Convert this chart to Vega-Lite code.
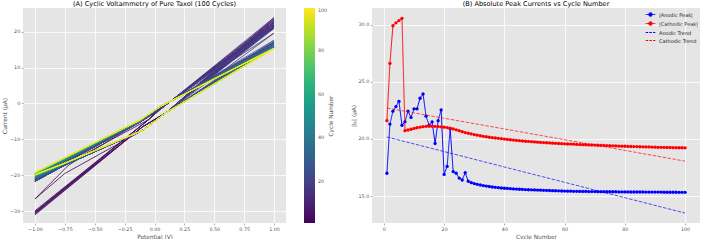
{
"$schema": "https://vega.github.io/schema/vega-lite/v6.json",
"padding": {"left": 1, "right": 0, "top": 0, "bottom": 0},
"background": "white",
"config": {
  "view": {"fill": "#E5E5E5", "stroke": null},
  "font": "DejaVu Sans",
  "axis": {"domain": false, "gridColor": "white", "gridWidth": 0.8, "tickColor": "#555555", "tickSize": 1.8, "tickWidth": 0.5, "labelColor": "#555555", "labelFontSize": 4.8, "labelPadding": 1.5, "titleColor": "#555555", "titleFontSize": 5.8, "titleFontWeight": "normal", "titlePadding": 2},
  "title": {"fontSize": 6.6, "fontWeight": "normal", "color": "#000000", "offset": 0.5},
  "concat": {"spacing": 16}
},
"datasets": {
"cv": [
{"c":1,"k":0,"e":-1,"i":-21.6},{"c":1,"k":1,"e":-0.05,"i":-4.5},{"c":1,"k":2,"e":0.05,"i":-0.97},{"c":1,"k":3,"e":1,"i":17},{"c":1,"k":4,"e":0.1,"i":-2.5},{"c":1,"k":5,"e":-0.1,"i":-7.5},{"c":1,"k":6,"e":-0.75,"i":-19.5},{"c":1,"k":7,"e":-1,"i":-26.6},
{"c":2,"k":0,"e":-1,"i":-26.6},{"c":2,"k":1,"e":-0.72,"i":-17.2},{"c":2,"k":2,"e":-0.12,"i":-5.1},{"c":2,"k":3,"e":0.05,"i":-1.4},{"c":2,"k":4,"e":1,"i":21.3},{"c":2,"k":5,"e":0.1,"i":-2.5},{"c":2,"k":6,"e":-0.1,"i":-6.5},{"c":2,"k":7,"e":-0.75,"i":-23.6},{"c":2,"k":8,"e":-1,"i":-30.4},
{"c":3,"k":0,"e":-1,"i":-29.9},{"c":3,"k":1,"e":-0.05,"i":-4.5},{"c":3,"k":2,"e":0.05,"i":-1.51},{"c":3,"k":3,"e":1,"i":22.43},{"c":3,"k":4,"e":0.1,"i":-2.5},{"c":3,"k":5,"e":-0.1,"i":-6.5},{"c":3,"k":6,"e":-0.75,"i":-23.76},{"c":3,"k":7,"e":-1,"i":-30.4},
{"c":4,"k":0,"e":-1,"i":-30.15},{"c":4,"k":1,"e":-0.05,"i":-4.5},{"c":4,"k":2,"e":0.05,"i":-1.55},{"c":4,"k":3,"e":1,"i":22.83},{"c":4,"k":4,"e":0.1,"i":-2.5},{"c":4,"k":5,"e":-0.1,"i":-6.5},{"c":4,"k":6,"e":-0.75,"i":-23.94},{"c":4,"k":7,"e":-1,"i":-30.65},
{"c":5,"k":0,"e":-1,"i":-30.35},{"c":5,"k":1,"e":-0.05,"i":-4.5},{"c":5,"k":2,"e":0.05,"i":-1.6},{"c":5,"k":3,"e":1,"i":23.29},{"c":5,"k":4,"e":0.1,"i":-2.5},{"c":5,"k":5,"e":-0.1,"i":-6.5},{"c":5,"k":6,"e":-0.75,"i":-24.09},{"c":5,"k":7,"e":-1,"i":-30.85},
{"c":6,"k":0,"e":-1,"i":-30.55},{"c":6,"k":1,"e":-0.05,"i":-4.5},{"c":6,"k":2,"e":0.05,"i":-1.39},{"c":6,"k":3,"e":1,"i":21.2},{"c":6,"k":4,"e":0.1,"i":-2.5},{"c":6,"k":5,"e":-0.1,"i":-6.5},{"c":6,"k":6,"e":-0.75,"i":-24.23},{"c":6,"k":7,"e":-1,"i":-31.05},
{"c":7,"k":0,"e":-1,"i":-20.72},{"c":7,"k":1,"e":-0.12,"i":-5.06},{"c":7,"k":2,"e":0.05,"i":-1.42},{"c":7,"k":3,"e":1,"i":21.5},{"c":7,"k":4,"e":0.1,"i":-2.5},{"c":7,"k":5,"e":-0.1,"i":-7.5},{"c":7,"k":6,"e":-0.75,"i":-17.06},{"c":7,"k":7,"e":-1,"i":-21.32},
{"c":8,"k":0,"e":-1,"i":-20.78},{"c":8,"k":1,"e":-0.12,"i":-5.07},{"c":8,"k":2,"e":0.05,"i":-1.51},{"c":8,"k":3,"e":1,"i":22.43},{"c":8,"k":4,"e":0.1,"i":-2.5},{"c":8,"k":5,"e":-0.1,"i":-7.5},{"c":8,"k":6,"e":-0.75,"i":-17.07},{"c":8,"k":7,"e":-1,"i":-21.38},
{"c":9,"k":0,"e":-1,"i":-20.85},{"c":9,"k":1,"e":-0.12,"i":-5.1},{"c":9,"k":2,"e":0.05,"i":-1.46},{"c":9,"k":3,"e":1,"i":21.88},{"c":9,"k":4,"e":0.1,"i":-2.5},{"c":9,"k":5,"e":-0.1,"i":-7.5},{"c":9,"k":6,"e":-0.75,"i":-17.1},{"c":9,"k":7,"e":-1,"i":-21.45},
{"c":10,"k":0,"e":-1,"i":-20.92},{"c":10,"k":1,"e":-0.12,"i":-5.12},{"c":10,"k":2,"e":0.05,"i":-1.53},{"c":10,"k":3,"e":1,"i":22.63},{"c":10,"k":4,"e":0.1,"i":-2.5},{"c":10,"k":5,"e":-0.1,"i":-7.5},{"c":10,"k":6,"e":-0.75,"i":-17.12},{"c":10,"k":7,"e":-1,"i":-21.52},
{"c":11,"k":0,"e":-1,"i":-20.98},{"c":11,"k":1,"e":-0.12,"i":-5.13},{"c":11,"k":2,"e":0.05,"i":-1.53},{"c":11,"k":3,"e":1,"i":22.63},{"c":11,"k":4,"e":0.1,"i":-2.5},{"c":11,"k":5,"e":-0.1,"i":-7.5},{"c":11,"k":6,"e":-0.75,"i":-17.13},{"c":11,"k":7,"e":-1,"i":-21.58},
{"c":12,"k":0,"e":-1,"i":-21.03},{"c":12,"k":1,"e":-0.12,"i":-5.15},{"c":12,"k":2,"e":0.05,"i":-1.63},{"c":12,"k":3,"e":1,"i":23.56},{"c":12,"k":4,"e":0.1,"i":-2.5},{"c":12,"k":5,"e":-0.1,"i":-7.5},{"c":12,"k":6,"e":-0.75,"i":-17.15},{"c":12,"k":7,"e":-1,"i":-21.63},
{"c":13,"k":0,"e":-1,"i":-21.07},{"c":13,"k":1,"e":-0.12,"i":-5.16},{"c":13,"k":2,"e":0.05,"i":-1.66},{"c":13,"k":3,"e":1,"i":23.93},{"c":13,"k":4,"e":0.1,"i":-2.5},{"c":13,"k":5,"e":-0.1,"i":-7.5},{"c":13,"k":6,"e":-0.75,"i":-17.16},{"c":13,"k":7,"e":-1,"i":-21.67},
{"c":14,"k":0,"e":-1,"i":-21.1},{"c":14,"k":1,"e":-0.12,"i":-5.17},{"c":14,"k":2,"e":0.05,"i":-1.47},{"c":14,"k":3,"e":1,"i":21.99},{"c":14,"k":4,"e":0.1,"i":-2.5},{"c":14,"k":5,"e":-0.1,"i":-7.5},{"c":14,"k":6,"e":-0.75,"i":-17.17},{"c":14,"k":7,"e":-1,"i":-21.7},
{"c":15,"k":0,"e":-1,"i":-21.11},{"c":15,"k":1,"e":-0.12,"i":-5.17},{"c":15,"k":2,"e":0.05,"i":-1.39},{"c":15,"k":3,"e":1,"i":21.2},{"c":15,"k":4,"e":0.1,"i":-2.5},{"c":15,"k":5,"e":-0.1,"i":-7.5},{"c":15,"k":6,"e":-0.75,"i":-17.17},{"c":15,"k":7,"e":-1,"i":-21.71},
{"c":16,"k":0,"e":-1,"i":-21.11},{"c":16,"k":1,"e":-0.12,"i":-5.17},{"c":16,"k":2,"e":0.05,"i":-1.42},{"c":16,"k":3,"e":1,"i":21.5},{"c":16,"k":4,"e":0.1,"i":-2.5},{"c":16,"k":5,"e":-0.1,"i":-7.5},{"c":16,"k":6,"e":-0.75,"i":-17.17},{"c":16,"k":7,"e":-1,"i":-21.71},
{"c":17,"k":0,"e":-1,"i":-21.1},{"c":17,"k":1,"e":-0.12,"i":-5.17},{"c":17,"k":2,"e":0.05,"i":-1.23},{"c":17,"k":3,"e":1,"i":19.6},{"c":17,"k":4,"e":0.1,"i":-2.5},{"c":17,"k":5,"e":-0.1,"i":-7.5},{"c":17,"k":6,"e":-0.75,"i":-17.17},{"c":17,"k":7,"e":-1,"i":-21.7},
{"c":18,"k":0,"e":-1,"i":-21.08},{"c":18,"k":1,"e":-0.12,"i":-5.16},{"c":18,"k":2,"e":0.05,"i":-1.43},{"c":18,"k":3,"e":1,"i":21.6},{"c":18,"k":4,"e":0.1,"i":-2.5},{"c":18,"k":5,"e":-0.1,"i":-7.5},{"c":18,"k":6,"e":-0.75,"i":-17.16},{"c":18,"k":7,"e":-1,"i":-21.68},
{"c":19,"k":0,"e":-1,"i":-21.06},{"c":19,"k":1,"e":-0.12,"i":-5.16},{"c":19,"k":2,"e":0.05,"i":-1.52},{"c":19,"k":3,"e":1,"i":22.54},{"c":19,"k":4,"e":0.1,"i":-2.5},{"c":19,"k":5,"e":-0.1,"i":-7.5},{"c":19,"k":6,"e":-0.75,"i":-17.16},{"c":19,"k":7,"e":-1,"i":-21.66},
{"c":20,"k":0,"e":-1,"i":-21.03},{"c":20,"k":1,"e":-0.12,"i":-5.15},{"c":20,"k":2,"e":0.05,"i":-0.96},{"c":20,"k":3,"e":1,"i":16.9},{"c":20,"k":4,"e":0.1,"i":-2.5},{"c":20,"k":5,"e":-0.1,"i":-7.5},{"c":20,"k":6,"e":-0.75,"i":-17.15},{"c":20,"k":7,"e":-1,"i":-21.63},
{"c":21,"k":0,"e":-1,"i":-20.99},{"c":21,"k":1,"e":-0.12,"i":-5.14},{"c":21,"k":2,"e":0.05,"i":-1.03},{"c":21,"k":3,"e":1,"i":17.6},{"c":21,"k":4,"e":0.1,"i":-2.5},{"c":21,"k":5,"e":-0.1,"i":-7.5},{"c":21,"k":6,"e":-0.75,"i":-17.14},{"c":21,"k":7,"e":-1,"i":-21.59},
{"c":22,"k":0,"e":-1,"i":-20.94},{"c":22,"k":1,"e":-0.12,"i":-5.12},{"c":22,"k":2,"e":0.05,"i":-1.36},{"c":22,"k":3,"e":1,"i":20.9},{"c":22,"k":4,"e":0.1,"i":-2.5},{"c":22,"k":5,"e":-0.1,"i":-7.5},{"c":22,"k":6,"e":-0.75,"i":-17.12},{"c":22,"k":7,"e":-1,"i":-21.54},
{"c":23,"k":0,"e":-1,"i":-20.88},{"c":23,"k":1,"e":-0.12,"i":-5.1},{"c":23,"k":2,"e":0.05,"i":-0.99},{"c":23,"k":3,"e":1,"i":17.15},{"c":23,"k":4,"e":0.1,"i":-2.5},{"c":23,"k":5,"e":-0.1,"i":-7.5},{"c":23,"k":6,"e":-0.75,"i":-17.1},{"c":23,"k":7,"e":-1,"i":-21.48},
{"c":24,"k":0,"e":-1,"i":-20.8},{"c":24,"k":1,"e":-0.12,"i":-5.08},{"c":24,"k":2,"e":0.05,"i":-0.97},{"c":24,"k":3,"e":1,"i":17},{"c":24,"k":4,"e":0.1,"i":-2.5},{"c":24,"k":5,"e":-0.1,"i":-7.5},{"c":24,"k":6,"e":-0.75,"i":-17.08},{"c":24,"k":7,"e":-1,"i":-21.4},
{"c":25,"k":0,"e":-1,"i":-20.72},{"c":25,"k":1,"e":-0.12,"i":-5.06},{"c":25,"k":2,"e":0.05,"i":-0.93},{"c":25,"k":3,"e":1,"i":16.58},{"c":25,"k":4,"e":0.1,"i":-2.5},{"c":25,"k":5,"e":-0.1,"i":-7.5},{"c":25,"k":6,"e":-0.75,"i":-17.06},{"c":25,"k":7,"e":-1,"i":-21.32},
{"c":26,"k":0,"e":-1,"i":-20.64},{"c":26,"k":1,"e":-0.12,"i":-5.03},{"c":26,"k":2,"e":0.05,"i":-0.91},{"c":26,"k":3,"e":1,"i":16.41},{"c":26,"k":4,"e":0.1,"i":-2.5},{"c":26,"k":5,"e":-0.1,"i":-7.5},{"c":26,"k":6,"e":-0.75,"i":-17.03},{"c":26,"k":7,"e":-1,"i":-21.24},
{"c":27,"k":0,"e":-1,"i":-20.56},{"c":27,"k":1,"e":-0.12,"i":-5.01},{"c":27,"k":2,"e":0.05,"i":-0.98},{"c":27,"k":3,"e":1,"i":17.05},{"c":27,"k":4,"e":0.1,"i":-2.5},{"c":27,"k":5,"e":-0.1,"i":-7.5},{"c":27,"k":6,"e":-0.75,"i":-17.01},{"c":27,"k":7,"e":-1,"i":-21.16},
{"c":28,"k":0,"e":-1,"i":-20.5},{"c":28,"k":1,"e":-0.12,"i":-4.99},{"c":28,"k":2,"e":0.05,"i":-0.9},{"c":28,"k":3,"e":1,"i":16.3},{"c":28,"k":4,"e":0.1,"i":-2.5},{"c":28,"k":5,"e":-0.1,"i":-7.5},{"c":28,"k":6,"e":-0.75,"i":-16.99},{"c":28,"k":7,"e":-1,"i":-21.1},
{"c":31,"k":0,"e":-1,"i":-20.33},{"c":31,"k":1,"e":-0.12,"i":-4.94},{"c":31,"k":2,"e":0.05,"i":-0.87},{"c":31,"k":3,"e":1,"i":16.03},{"c":31,"k":4,"e":0.1,"i":-2.5},{"c":31,"k":5,"e":-0.1,"i":-7.5},{"c":31,"k":6,"e":-0.75,"i":-16.94},{"c":31,"k":7,"e":-1,"i":-20.93},
{"c":34,"k":0,"e":-1,"i":-20.19},{"c":34,"k":1,"e":-0.12,"i":-4.9},{"c":34,"k":2,"e":0.05,"i":-0.86},{"c":34,"k":3,"e":1,"i":15.88},{"c":34,"k":4,"e":0.1,"i":-2.5},{"c":34,"k":5,"e":-0.1,"i":-7.5},{"c":34,"k":6,"e":-0.75,"i":-16.9},{"c":34,"k":7,"e":-1,"i":-20.79},
{"c":37,"k":0,"e":-1,"i":-20.08},{"c":37,"k":1,"e":-0.12,"i":-4.86},{"c":37,"k":2,"e":0.05,"i":-0.85},{"c":37,"k":3,"e":1,"i":15.77},{"c":37,"k":4,"e":0.1,"i":-2.5},{"c":37,"k":5,"e":-0.1,"i":-7.5},{"c":37,"k":6,"e":-0.75,"i":-16.86},{"c":37,"k":7,"e":-1,"i":-20.68},
{"c":40,"k":0,"e":-1,"i":-19.99},{"c":40,"k":1,"e":-0.12,"i":-4.84},{"c":40,"k":2,"e":0.05,"i":-0.84},{"c":40,"k":3,"e":1,"i":15.69},{"c":40,"k":4,"e":0.1,"i":-2.5},{"c":40,"k":5,"e":-0.1,"i":-7.5},{"c":40,"k":6,"e":-0.75,"i":-16.84},{"c":40,"k":7,"e":-1,"i":-20.59},
{"c":43,"k":0,"e":-1,"i":-19.9},{"c":43,"k":1,"e":-0.12,"i":-4.81},{"c":43,"k":2,"e":0.05,"i":-0.83},{"c":43,"k":3,"e":1,"i":15.63},{"c":43,"k":4,"e":0.1,"i":-2.5},{"c":43,"k":5,"e":-0.1,"i":-7.5},{"c":43,"k":6,"e":-0.75,"i":-16.81},{"c":43,"k":7,"e":-1,"i":-20.5},
{"c":46,"k":0,"e":-1,"i":-19.82},{"c":46,"k":1,"e":-0.12,"i":-4.79},{"c":46,"k":2,"e":0.05,"i":-0.83},{"c":46,"k":3,"e":1,"i":15.59},{"c":46,"k":4,"e":0.1,"i":-2.5},{"c":46,"k":5,"e":-0.1,"i":-7.5},{"c":46,"k":6,"e":-0.75,"i":-16.79},{"c":46,"k":7,"e":-1,"i":-20.42},
{"c":49,"k":0,"e":-1,"i":-19.76},{"c":49,"k":1,"e":-0.12,"i":-4.77},{"c":49,"k":2,"e":0.05,"i":-0.83},{"c":49,"k":3,"e":1,"i":15.55},{"c":49,"k":4,"e":0.1,"i":-2.5},{"c":49,"k":5,"e":-0.1,"i":-7.5},{"c":49,"k":6,"e":-0.75,"i":-16.77},{"c":49,"k":7,"e":-1,"i":-20.36},
{"c":52,"k":0,"e":-1,"i":-19.7},{"c":52,"k":1,"e":-0.12,"i":-4.75},{"c":52,"k":2,"e":0.05,"i":-0.82},{"c":52,"k":3,"e":1,"i":15.52},{"c":52,"k":4,"e":0.1,"i":-2.5},{"c":52,"k":5,"e":-0.1,"i":-7.5},{"c":52,"k":6,"e":-0.75,"i":-16.75},{"c":52,"k":7,"e":-1,"i":-20.3},
{"c":55,"k":0,"e":-1,"i":-19.65},{"c":55,"k":1,"e":-0.12,"i":-4.74},{"c":55,"k":2,"e":0.05,"i":-0.82},{"c":55,"k":3,"e":1,"i":15.49},{"c":55,"k":4,"e":0.1,"i":-2.5},{"c":55,"k":5,"e":-0.1,"i":-7.5},{"c":55,"k":6,"e":-0.75,"i":-16.74},{"c":55,"k":7,"e":-1,"i":-20.25},
{"c":58,"k":0,"e":-1,"i":-19.6},{"c":58,"k":1,"e":-0.12,"i":-4.72},{"c":58,"k":2,"e":0.05,"i":-0.82},{"c":58,"k":3,"e":1,"i":15.46},{"c":58,"k":4,"e":0.1,"i":-2.5},{"c":58,"k":5,"e":-0.1,"i":-7.5},{"c":58,"k":6,"e":-0.75,"i":-16.72},{"c":58,"k":7,"e":-1,"i":-20.2},
{"c":61,"k":0,"e":-1,"i":-19.56},{"c":61,"k":1,"e":-0.12,"i":-4.71},{"c":61,"k":2,"e":0.05,"i":-0.81},{"c":61,"k":3,"e":1,"i":15.43},{"c":61,"k":4,"e":0.1,"i":-2.5},{"c":61,"k":5,"e":-0.1,"i":-7.5},{"c":61,"k":6,"e":-0.75,"i":-16.71},{"c":61,"k":7,"e":-1,"i":-20.16},
{"c":64,"k":0,"e":-1,"i":-19.52},{"c":64,"k":1,"e":-0.12,"i":-4.7},{"c":64,"k":2,"e":0.05,"i":-0.81},{"c":64,"k":3,"e":1,"i":15.42},{"c":64,"k":4,"e":0.1,"i":-2.5},{"c":64,"k":5,"e":-0.1,"i":-7.5},{"c":64,"k":6,"e":-0.75,"i":-16.7},{"c":64,"k":7,"e":-1,"i":-20.12},
{"c":67,"k":0,"e":-1,"i":-19.49},{"c":67,"k":1,"e":-0.12,"i":-4.69},{"c":67,"k":2,"e":0.05,"i":-0.81},{"c":67,"k":3,"e":1,"i":15.41},{"c":67,"k":4,"e":0.1,"i":-2.5},{"c":67,"k":5,"e":-0.1,"i":-7.5},{"c":67,"k":6,"e":-0.75,"i":-16.69},{"c":67,"k":7,"e":-1,"i":-20.09},
{"c":70,"k":0,"e":-1,"i":-19.46},{"c":70,"k":1,"e":-0.12,"i":-4.68},{"c":70,"k":2,"e":0.05,"i":-0.81},{"c":70,"k":3,"e":1,"i":15.4},{"c":70,"k":4,"e":0.1,"i":-2.5},{"c":70,"k":5,"e":-0.1,"i":-7.5},{"c":70,"k":6,"e":-0.75,"i":-16.68},{"c":70,"k":7,"e":-1,"i":-20.06},
{"c":73,"k":0,"e":-1,"i":-19.43},{"c":73,"k":1,"e":-0.12,"i":-4.67},{"c":73,"k":2,"e":0.05,"i":-0.81},{"c":73,"k":3,"e":1,"i":15.39},{"c":73,"k":4,"e":0.1,"i":-2.5},{"c":73,"k":5,"e":-0.1,"i":-7.5},{"c":73,"k":6,"e":-0.75,"i":-16.67},{"c":73,"k":7,"e":-1,"i":-20.03},
{"c":76,"k":0,"e":-1,"i":-19.4},{"c":76,"k":1,"e":-0.12,"i":-4.66},{"c":76,"k":2,"e":0.05,"i":-0.81},{"c":76,"k":3,"e":1,"i":15.38},{"c":76,"k":4,"e":0.1,"i":-2.5},{"c":76,"k":5,"e":-0.1,"i":-7.5},{"c":76,"k":6,"e":-0.75,"i":-16.66},{"c":76,"k":7,"e":-1,"i":-20},
{"c":79,"k":0,"e":-1,"i":-19.37},{"c":79,"k":1,"e":-0.12,"i":-4.65},{"c":79,"k":2,"e":0.05,"i":-0.81},{"c":79,"k":3,"e":1,"i":15.37},{"c":79,"k":4,"e":0.1,"i":-2.5},{"c":79,"k":5,"e":-0.1,"i":-7.5},{"c":79,"k":6,"e":-0.75,"i":-16.65},{"c":79,"k":7,"e":-1,"i":-19.97},
{"c":82,"k":0,"e":-1,"i":-19.34},{"c":82,"k":1,"e":-0.12,"i":-4.64},{"c":82,"k":2,"e":0.05,"i":-0.81},{"c":82,"k":3,"e":1,"i":15.36},{"c":82,"k":4,"e":0.1,"i":-2.5},{"c":82,"k":5,"e":-0.1,"i":-7.5},{"c":82,"k":6,"e":-0.75,"i":-16.64},{"c":82,"k":7,"e":-1,"i":-19.94},
{"c":85,"k":0,"e":-1,"i":-19.32},{"c":85,"k":1,"e":-0.12,"i":-4.64},{"c":85,"k":2,"e":0.05,"i":-0.81},{"c":85,"k":3,"e":1,"i":15.36},{"c":85,"k":4,"e":0.1,"i":-2.5},{"c":85,"k":5,"e":-0.1,"i":-7.5},{"c":85,"k":6,"e":-0.75,"i":-16.64},{"c":85,"k":7,"e":-1,"i":-19.92},
{"c":88,"k":0,"e":-1,"i":-19.3},{"c":88,"k":1,"e":-0.12,"i":-4.63},{"c":88,"k":2,"e":0.05,"i":-0.8},{"c":88,"k":3,"e":1,"i":15.35},{"c":88,"k":4,"e":0.1,"i":-2.5},{"c":88,"k":5,"e":-0.1,"i":-7.5},{"c":88,"k":6,"e":-0.75,"i":-16.63},{"c":88,"k":7,"e":-1,"i":-19.9},
{"c":91,"k":0,"e":-1,"i":-19.27},{"c":91,"k":1,"e":-0.12,"i":-4.62},{"c":91,"k":2,"e":0.05,"i":-0.8},{"c":91,"k":3,"e":1,"i":15.35},{"c":91,"k":4,"e":0.1,"i":-2.5},{"c":91,"k":5,"e":-0.1,"i":-7.5},{"c":91,"k":6,"e":-0.75,"i":-16.62},{"c":91,"k":7,"e":-1,"i":-19.87},
{"c":94,"k":0,"e":-1,"i":-19.25},{"c":94,"k":1,"e":-0.12,"i":-4.62},{"c":94,"k":2,"e":0.05,"i":-0.8},{"c":94,"k":3,"e":1,"i":15.34},{"c":94,"k":4,"e":0.1,"i":-2.5},{"c":94,"k":5,"e":-0.1,"i":-7.5},{"c":94,"k":6,"e":-0.75,"i":-16.62},{"c":94,"k":7,"e":-1,"i":-19.85},
{"c":97,"k":0,"e":-1,"i":-19.24},{"c":97,"k":1,"e":-0.12,"i":-4.61},{"c":97,"k":2,"e":0.05,"i":-0.8},{"c":97,"k":3,"e":1,"i":15.34},{"c":97,"k":4,"e":0.1,"i":-2.5},{"c":97,"k":5,"e":-0.1,"i":-7.5},{"c":97,"k":6,"e":-0.75,"i":-16.61},{"c":97,"k":7,"e":-1,"i":-19.84},
{"c":100,"k":0,"e":-1,"i":-19.22},{"c":100,"k":1,"e":-0.12,"i":-4.61},{"c":100,"k":2,"e":0.05,"i":-0.8},{"c":100,"k":3,"e":1,"i":15.33},{"c":100,"k":4,"e":0.1,"i":-2.5},{"c":100,"k":5,"e":-0.1,"i":-7.5},{"c":100,"k":6,"e":-0.75,"i":-16.61},{"c":100,"k":7,"e":-1,"i":-19.82}
],
"peaks": [
{"n":1,"s":"a","v":17.0},{"n":2,"s":"a","v":21.3},{"n":3,"s":"a","v":22.43},{"n":4,"s":"a","v":22.83},{"n":5,"s":"a","v":23.29},{"n":6,"s":"a","v":21.2},{"n":7,"s":"a","v":21.5},{"n":8,"s":"a","v":22.43},{"n":9,"s":"a","v":21.88},{"n":10,"s":"a","v":22.63},
{"n":11,"s":"a","v":22.63},{"n":12,"s":"a","v":23.56},{"n":13,"s":"a","v":23.93},{"n":14,"s":"a","v":21.99},{"n":15,"s":"a","v":21.2},{"n":16,"s":"a","v":21.5},{"n":17,"s":"a","v":19.6},{"n":18,"s":"a","v":21.6},{"n":19,"s":"a","v":22.54},{"n":20,"s":"a","v":16.9},
{"n":21,"s":"a","v":17.6},{"n":22,"s":"a","v":20.9},{"n":23,"s":"a","v":17.15},{"n":24,"s":"a","v":17.0},{"n":25,"s":"a","v":16.58},{"n":26,"s":"a","v":16.41},{"n":27,"s":"a","v":17.05},{"n":28,"s":"a","v":16.3},{"n":29,"s":"a","v":16.18},{"n":30,"s":"a","v":16.1},
{"n":31,"s":"a","v":16.03},{"n":32,"s":"a","v":15.97},{"n":33,"s":"a","v":15.92},{"n":34,"s":"a","v":15.88},{"n":35,"s":"a","v":15.84},{"n":36,"s":"a","v":15.8},{"n":37,"s":"a","v":15.77},{"n":38,"s":"a","v":15.74},{"n":39,"s":"a","v":15.71},{"n":40,"s":"a","v":15.69},
{"n":41,"s":"a","v":15.67},{"n":42,"s":"a","v":15.65},{"n":43,"s":"a","v":15.63},{"n":44,"s":"a","v":15.62},{"n":45,"s":"a","v":15.6},{"n":46,"s":"a","v":15.59},{"n":47,"s":"a","v":15.57},{"n":48,"s":"a","v":15.56},{"n":49,"s":"a","v":15.55},{"n":50,"s":"a","v":15.54},
{"n":51,"s":"a","v":15.53},{"n":52,"s":"a","v":15.52},{"n":53,"s":"a","v":15.51},{"n":54,"s":"a","v":15.5},{"n":55,"s":"a","v":15.49},{"n":56,"s":"a","v":15.48},{"n":57,"s":"a","v":15.47},{"n":58,"s":"a","v":15.46},{"n":59,"s":"a","v":15.45},{"n":60,"s":"a","v":15.44},
{"n":61,"s":"a","v":15.43},{"n":62,"s":"a","v":15.43},{"n":63,"s":"a","v":15.42},{"n":64,"s":"a","v":15.42},{"n":65,"s":"a","v":15.41},{"n":66,"s":"a","v":15.41},{"n":67,"s":"a","v":15.41},{"n":68,"s":"a","v":15.4},{"n":69,"s":"a","v":15.4},{"n":70,"s":"a","v":15.4},
{"n":71,"s":"a","v":15.39},{"n":72,"s":"a","v":15.39},{"n":73,"s":"a","v":15.39},{"n":74,"s":"a","v":15.38},{"n":75,"s":"a","v":15.38},{"n":76,"s":"a","v":15.38},{"n":77,"s":"a","v":15.38},{"n":78,"s":"a","v":15.37},{"n":79,"s":"a","v":15.37},{"n":80,"s":"a","v":15.37},
{"n":81,"s":"a","v":15.37},{"n":82,"s":"a","v":15.36},{"n":83,"s":"a","v":15.36},{"n":84,"s":"a","v":15.36},{"n":85,"s":"a","v":15.36},{"n":86,"s":"a","v":15.36},{"n":87,"s":"a","v":15.35},{"n":88,"s":"a","v":15.35},{"n":89,"s":"a","v":15.35},{"n":90,"s":"a","v":15.35},
{"n":91,"s":"a","v":15.35},{"n":92,"s":"a","v":15.35},{"n":93,"s":"a","v":15.34},{"n":94,"s":"a","v":15.34},{"n":95,"s":"a","v":15.34},{"n":96,"s":"a","v":15.34},{"n":97,"s":"a","v":15.34},{"n":98,"s":"a","v":15.33},{"n":99,"s":"a","v":15.33},{"n":100,"s":"a","v":15.33},
{"n":1,"s":"c","v":21.6},{"n":2,"s":"c","v":26.6},{"n":3,"s":"c","v":29.9},{"n":4,"s":"c","v":30.15},{"n":5,"s":"c","v":30.35},{"n":6,"s":"c","v":30.55},{"n":7,"s":"c","v":20.72},{"n":8,"s":"c","v":20.78},{"n":9,"s":"c","v":20.85},{"n":10,"s":"c","v":20.92},
{"n":11,"s":"c","v":20.98},{"n":12,"s":"c","v":21.03},{"n":13,"s":"c","v":21.07},{"n":14,"s":"c","v":21.1},{"n":15,"s":"c","v":21.11},{"n":16,"s":"c","v":21.11},{"n":17,"s":"c","v":21.1},{"n":18,"s":"c","v":21.08},{"n":19,"s":"c","v":21.06},{"n":20,"s":"c","v":21.03},
{"n":21,"s":"c","v":20.99},{"n":22,"s":"c","v":20.94},{"n":23,"s":"c","v":20.88},{"n":24,"s":"c","v":20.8},{"n":25,"s":"c","v":20.72},{"n":26,"s":"c","v":20.64},{"n":27,"s":"c","v":20.56},{"n":28,"s":"c","v":20.5},{"n":29,"s":"c","v":20.44},{"n":30,"s":"c","v":20.38},
{"n":31,"s":"c","v":20.33},{"n":32,"s":"c","v":20.28},{"n":33,"s":"c","v":20.23},{"n":34,"s":"c","v":20.19},{"n":35,"s":"c","v":20.15},{"n":36,"s":"c","v":20.11},{"n":37,"s":"c","v":20.08},{"n":38,"s":"c","v":20.05},{"n":39,"s":"c","v":20.02},{"n":40,"s":"c","v":19.99},
{"n":41,"s":"c","v":19.96},{"n":42,"s":"c","v":19.93},{"n":43,"s":"c","v":19.9},{"n":44,"s":"c","v":19.87},{"n":45,"s":"c","v":19.85},{"n":46,"s":"c","v":19.82},{"n":47,"s":"c","v":19.8},{"n":48,"s":"c","v":19.78},{"n":49,"s":"c","v":19.76},{"n":50,"s":"c","v":19.74},
{"n":51,"s":"c","v":19.72},{"n":52,"s":"c","v":19.7},{"n":53,"s":"c","v":19.68},{"n":54,"s":"c","v":19.67},{"n":55,"s":"c","v":19.65},{"n":56,"s":"c","v":19.63},{"n":57,"s":"c","v":19.62},{"n":58,"s":"c","v":19.6},{"n":59,"s":"c","v":19.59},{"n":60,"s":"c","v":19.57},
{"n":61,"s":"c","v":19.56},{"n":62,"s":"c","v":19.55},{"n":63,"s":"c","v":19.54},{"n":64,"s":"c","v":19.52},{"n":65,"s":"c","v":19.51},{"n":66,"s":"c","v":19.5},{"n":67,"s":"c","v":19.49},{"n":68,"s":"c","v":19.48},{"n":69,"s":"c","v":19.47},{"n":70,"s":"c","v":19.46},
{"n":71,"s":"c","v":19.45},{"n":72,"s":"c","v":19.44},{"n":73,"s":"c","v":19.43},{"n":74,"s":"c","v":19.42},{"n":75,"s":"c","v":19.41},{"n":76,"s":"c","v":19.4},{"n":77,"s":"c","v":19.39},{"n":78,"s":"c","v":19.38},{"n":79,"s":"c","v":19.37},{"n":80,"s":"c","v":19.36},
{"n":81,"s":"c","v":19.35},{"n":82,"s":"c","v":19.34},{"n":83,"s":"c","v":19.33},{"n":84,"s":"c","v":19.33},{"n":85,"s":"c","v":19.32},{"n":86,"s":"c","v":19.31},{"n":87,"s":"c","v":19.3},{"n":88,"s":"c","v":19.3},{"n":89,"s":"c","v":19.29},{"n":90,"s":"c","v":19.28},
{"n":91,"s":"c","v":19.27},{"n":92,"s":"c","v":19.27},{"n":93,"s":"c","v":19.26},{"n":94,"s":"c","v":19.25},{"n":95,"s":"c","v":19.25},{"n":96,"s":"c","v":19.24},{"n":97,"s":"c","v":19.24},{"n":98,"s":"c","v":19.23},{"n":99,"s":"c","v":19.23},{"n":100,"s":"c","v":19.22}
],
"trends": [
{"n":1,"s":"at","v":20.17},{"n":100,"s":"at","v":13.52},{"n":1,"s":"ct","v":22.7},{"n":100,"s":"ct","v":18.06}
]
},
"hconcat": [
{
  "width": 263, "height": 215,
  "title": "(A) Cyclic Voltammetry of Pure Taxol (100 Cycles)",
  "data": {"name": "cv"},
  "mark": {"type": "line", "strokeWidth": 0.8},
  "encoding": {
    "x": {"field": "e", "type": "quantitative", "scale": {"domain": [-1.1, 1.1], "nice": false, "zero": false}, "axis": {"title": "Potential (V)", "values": [-1, -0.75, -0.5, -0.25, 0, 0.25, 0.5, 0.75, 1], "format": ".2f"}},
    "y": {"field": "i", "type": "quantitative", "scale": {"domain": [-33.3, 26.6], "nice": false, "zero": false}, "axis": {"title": "Current (μA)", "values": [-30, -20, -10, 0, 10, 20]}},
    "color": {"field": "c", "type": "quantitative", "scale": {"scheme": "viridis", "domain": [1, 100]},
      "legend": {"orient": "right", "offset": 18, "title": "Cycle Number", "titleOrient": "right", "gradientLength": 215, "gradientThickness": 11, "gradientStrokeWidth": 0, "values": [20, 40, 60, 80, 100], "labelFontSize": 4.8, "labelColor": "#555555", "labelOffset": 3, "padding": 0, "titleFontSize": 5.8, "titleColor": "#555555", "titleFontWeight": "normal", "titleAnchor": "middle", "titleAlign": "center", "titleBaseline": "middle", "titlePadding": 4,
        "encode": {"title": {"update": {"angle": {"value": -90}}}}}},
    "detail": {"field": "c", "type": "quantitative"},
    "order": {"field": "k", "type": "quantitative"}
  }
},
{
  "width": 328, "height": 215,
  "title": "(B) Absolute Peak Currents vs Cycle Number",
  "layer": [
    {
      "data": {"name": "peaks"},
      "mark": {"type": "line", "strokeWidth": 1, "point": {"filled": true, "size": 11}},
      "encoding": {
        "x": {"field": "n", "type": "quantitative", "scale": {"domain": [-3.95, 104.95], "nice": false, "zero": false}, "axis": {"title": "Cycle Number", "values": [0, 20, 40, 60, 80, 100]}},
        "y": {"field": "v", "type": "quantitative", "scale": {"domain": [12.65, 31.45], "nice": false, "zero": false}, "axis": {"title": "|Iₚ| (μA)", "values": [15, 17.5, 20, 22.5, 25, 27.5, 30], "format": ".1f"}},
        "color": {"field": "s", "type": "nominal", "scale": {"domain": ["a", "c", "at", "ct"], "range": ["#0000FF", "#FF0000", "#0000FF", "#FF0000"]},
          "legend": {"orient": "top-right", "offset": 1, "title": null, "labelFontSize": 5, "labelColor": "#222222", "symbolType": "stroke", "symbolSize": 64, "symbolStrokeWidth": 1, "rowPadding": 0, "labelOffset": 4, "padding": 1,
            "labelExpr": "datum.label == 'a' ? '|Anodic Peak|' : datum.label == 'c' ? '|Cathodic Peak|' : datum.label == 'at' ? 'Anodic Trend' : 'Cathodic Trend'",
            "encode": {"symbols": {"update": {
              "shape": {"signal": "length(datum.value) == 1 ? 'M-1.2,0H1.2M0.45,0A0.45,0.45,0,1,1,-0.45,0A0.45,0.45,0,1,1,0.45,0' : 'M-1.2,0H1.2'"},
              "strokeDash": {"signal": "length(datum.value) == 2 ? [2.5, 1.2] : [1, 0]"},
              "fill": {"signal": "datum.value == 'a' ? '#0000FF' : datum.value == 'c' ? '#FF0000' : 'transparent'"}}}}}},
        "strokeDash": {"field": "s", "type": "nominal", "scale": {"domain": ["a", "c", "at", "ct"], "range": [[1, 0], [1, 0], [3.5, 1.5], [3.5, 1.5]]}}
      }
    },
    {
      "data": {"name": "trends"},
      "mark": {"type": "line", "strokeWidth": 0.9, "opacity": 0.75},
      "encoding": {
        "x": {"field": "n", "type": "quantitative"},
        "y": {"field": "v", "type": "quantitative"},
        "color": {"field": "s", "type": "nominal"},
        "strokeDash": {"field": "s", "type": "nominal"}
      }
    }
  ]
}
]
}
